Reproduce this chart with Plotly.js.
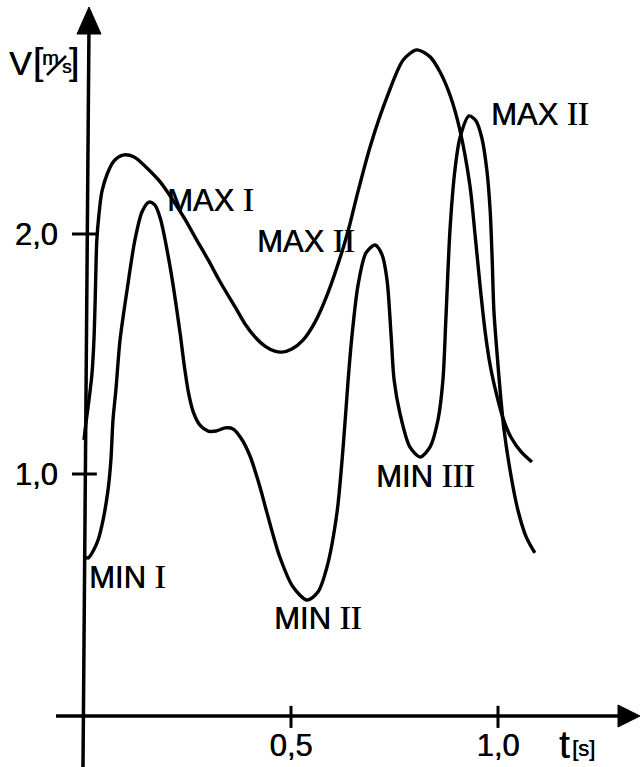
<!DOCTYPE html>
<html>
<head>
<meta charset="utf-8">
<script src="https://cdn.plot.ly/plotly-3.0.1.min.js"></script>
<style>html,body{margin:0;padding:0;background:#fff;}#chart{width:640px;height:767px;}</style>
</head>
<body>
<div id="chart"></div>
<script>
// ---- data (t in s, V in m/s) ----
const tA = [0.000,0.005,0.012,0.019,0.024,0.027,0.029,0.031,0.036,0.043,0.056,0.072,0.094,0.121,0.152,0.184,0.213,0.242,0.271,0.300,0.329,0.365,0.389,0.413,0.437,0.461,0.478,0.502,0.529,0.558,0.589,0.626,0.643,0.659,0.691,0.732,0.771,0.804,0.836,0.860,0.884,0.908,0.932,0.944,0.957,0.969,0.981,0.995,1.012,1.031,1.056,1.082];
const vA = [1.142,1.217,1.308,1.413,1.558,1.725,1.871,1.975,2.079,2.175,2.250,2.304,2.329,2.321,2.275,2.217,2.146,2.067,1.979,1.892,1.800,1.696,1.625,1.571,1.533,1.512,1.508,1.521,1.558,1.633,1.754,1.942,2.046,2.158,2.363,2.571,2.725,2.767,2.738,2.675,2.579,2.433,2.204,2.008,1.779,1.592,1.454,1.342,1.233,1.154,1.092,1.050];

const tB = [0.000,0.010,0.022,0.034,0.046,0.058,0.065,0.070,0.077,0.087,0.104,0.123,0.140,0.157,0.171,0.184,0.208,0.232,0.242,0.252,0.264,0.280,0.300,0.319,0.341,0.360,0.379,0.401,0.425,0.442,0.473,0.505,0.539,0.565,0.587,0.611,0.626,0.638,0.647,0.662,0.681,0.703,0.720,0.732,0.742,0.749,0.763,0.787,0.812,0.836,0.855,0.867,0.874,0.884,0.896,0.908,0.930,0.947,0.961,0.973,0.981,0.986,0.990,0.998,1.005,1.014,1.029,1.048,1.068,1.089];
const vB = [0.658,0.650,0.679,0.725,0.808,0.933,1.058,1.225,1.350,1.558,1.767,1.975,2.092,2.133,2.121,2.067,1.863,1.588,1.454,1.342,1.258,1.204,1.179,1.179,1.192,1.188,1.150,1.075,0.946,0.838,0.654,0.529,0.475,0.508,0.613,0.838,1.113,1.392,1.571,1.788,1.921,1.954,1.913,1.808,1.571,1.392,1.254,1.113,1.071,1.113,1.225,1.392,1.642,2.017,2.267,2.400,2.492,2.471,2.400,2.267,2.100,1.892,1.683,1.496,1.350,1.192,1.017,0.850,0.738,0.671];

const xTickVals = [0.5, 1.0];
const xTickText = ['0,5', '1,0'];
const yTickVals = [1.0, 2.0];
const yTickText = ['1,0', '2,0'];

const labelWords = ['MAX', 'MAX', 'MAX', 'MIN', 'MIN', 'MIN'];
const labelNums  = ['I', 'II', 'II', 'I', 'II', 'III'];

// ---- layout helpers ----
const W = 640, H = 767;
const px = x => x / W;           // pixel -> paper x
const py = y => 1 - y / H;       // pixel -> paper y
const SANS = 'Liberation Sans, Arial, sans-serif';
const SERIF = 'Liberation Serif';
const HEAVY = '0.5px 0 0 #000';

// label anchor spots (t, V) for each label, in label order
const labelPos = [[0.196, 2.142], [0.413, 1.969], [0.978, 2.502], [0.007, 0.569], [0.454, 0.398], [0.700, 0.990]];

const curveLine = {color: '#000', width: 3.4, shape: 'spline', smoothing: 0.8};
const traces = [
  {x: tA, y: vA, mode: 'lines', line: curveLine, hoverinfo: 'skip'},
  {x: tB, y: vB, mode: 'lines', line: curveLine, hoverinfo: 'skip'}
];

function tri(pts) {
  return 'M' + pts.map(p => px(p[0]) + ',' + py(p[1])).join(' L') + ' Z';
}
const shapes = [];
// axes (drawn as lines with arrow heads)
shapes.push({type: 'line', xref: 'paper', yref: 'paper', x0: px(56), y0: py(716), x1: px(625), y1: py(716), line: {color: '#000', width: 3.5}});
shapes.push({type: 'path', xref: 'paper', yref: 'paper', path: tri([[640, 716], [618, 705], [618, 727]]), fillcolor: '#000', line: {color: '#000', width: 1}});
shapes.push({type: 'line', xref: 'paper', yref: 'paper', x0: px(83), y0: py(767), x1: px(89), y1: py(25), line: {color: '#000', width: 3.5}});
shapes.push({type: 'path', xref: 'paper', yref: 'paper', path: tri([[89, 7], [77, 34], [101, 34]]), fillcolor: '#000', line: {color: '#000', width: 1}});
// tick marks from the tick values
xTickVals.forEach(v => shapes.push({type: 'line', xref: 'x', yref: 'y', x0: v, x1: v, y0: -0.058, y1: 0.034, line: {color: '#000', width: 3}}));
yTickVals.forEach(v => shapes.push({type: 'line', xref: 'x', yref: 'y', y0: v, y1: v, x0: -0.029, x1: 0.031, line: {color: '#000', width: 3}}));
// slash of m/s
shapes.push({type: 'line', xref: 'paper', yref: 'paper', x0: px(47), y0: py(75), x1: px(66), y1: py(56), line: {color: '#000', width: 2.5}});

const annotations = labelWords.map((w, i) => ({
  x: labelPos[i][0], y: labelPos[i][1], xref: 'x', yref: 'y',
  xanchor: 'left', yanchor: 'middle', showarrow: false,
  text: w + ' <span style="font-family:' + SERIF + ';font-size:33px">' + labelNums[i] + '</span>',
  font: {family: SANS, size: 31, color: '#000', shadow: HEAVY}
}));

function txt(s, x, y, size) {
  return {x: px(x), y: py(y), xref: 'paper', yref: 'paper', xanchor: 'center', yanchor: 'middle',
    showarrow: false, borderpad: 0, text: s, font: {family: SANS, size: size, color: '#000', shadow: HEAVY}};
}
annotations.push(txt('V', 20, 63, 34));
annotations.push(txt('[', 37.5, 62, 36));
annotations.push(txt(']', 74, 62, 36));
annotations.push(txt('m', 50.5, 58, 20));
annotations.push(txt('s', 66.5, 67, 19));
annotations.push(txt('t', 564, 745, 38));
annotations.push(txt('[s]', 583, 748, 22));

const layout = {
  width: W, height: H,
  margin: {l: 0, r: 0, t: 0, b: 0},
  paper_bgcolor: '#fff', plot_bgcolor: 'rgba(0,0,0,0)',
  showlegend: false,
  xaxis: {
    range: [-84 / 414, 556 / 414], domain: [0, 1],
    anchor: 'free', position: 1 - 716 / 767,
    showline: false, showgrid: false, zeroline: false,
    tickmode: 'array', tickvals: xTickVals, ticktext: xTickText,
    ticks: 'outside', ticklen: 2, tickcolor: 'rgba(0,0,0,0)',
    tickfont: {family: SANS, size: 31, color: '#000', shadow: HEAVY}, fixedrange: true
  },
  yaxis: {
    range: [(714 - 767) / 240, 714 / 240], domain: [0, 1],
    anchor: 'free', position: 84 / 640,
    showline: false, showgrid: false, zeroline: false,
    tickmode: 'array', tickvals: yTickVals, ticktext: yTickText,
    ticks: 'outside', ticklen: 20, tickcolor: 'rgba(0,0,0,0)',
    tickfont: {family: SANS, size: 31, color: '#000', shadow: HEAVY}, fixedrange: true
  },
  shapes: shapes,
  annotations: annotations
};

Plotly.newPlot('chart', traces, layout, {staticPlot: true, displayModeBar: false});
</script>
</body>
</html>
